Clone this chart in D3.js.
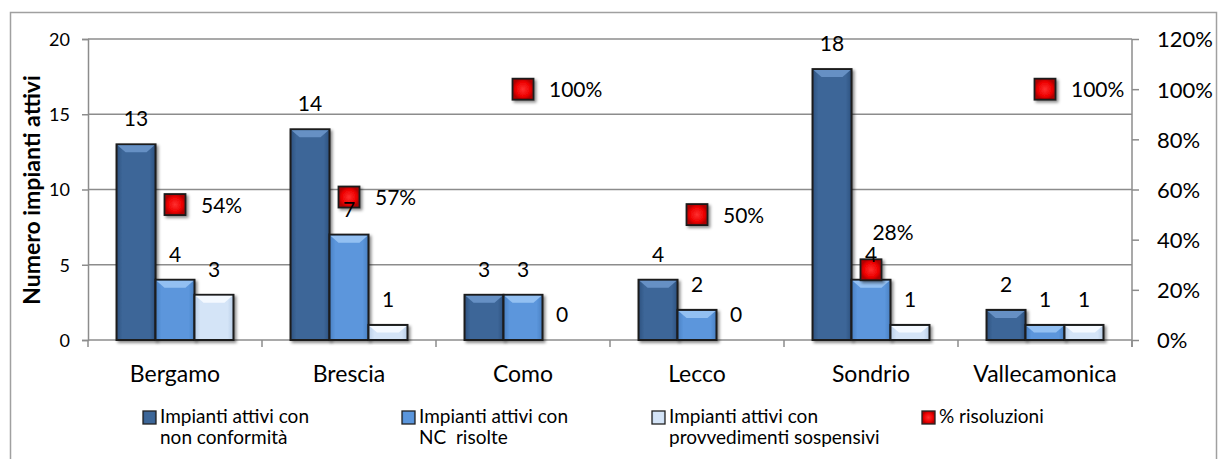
<!DOCTYPE html>
<html><head><meta charset="utf-8">
<script src="https://cdn.jsdelivr.net/npm/d3@7/dist/d3.min.js"></script>
<style>
html,body{margin:0;padding:0;background:#fff;}
svg{display:block;font-family:Lato,"Open Sans",sans-serif;}
</style></head>
<body>
<svg id="chart" width="1219" height="459"></svg>
<script>
const categories = ["Bergamo","Brescia","Como","Lecco","Sondrio","Vallecamonica"];
const seriesNames = ["Impianti attivi con\nnon conformità","Impianti attivi con\nNC  risolte","Impianti attivi con\nprovvedimenti sospensivi","% risoluzioni"];
const nonConformi = [13,14,3,4,18,2];
const ncRisolte = [4,7,3,2,4,1];
const sospensivi = [3,1,0,0,1,1];
const risoluzioni = [0.54,0.57,1.00,0.50,0.28,1.00];
const leftTicks = [0,5,10,15,20];
const rightTicks = [0,0.2,0.4,0.6,0.8,1.0,1.2];

const svg = d3.select("#chart");
const defs = svg.append("defs");
const W=1219;
const L=88, R=1132, T=39, B=340;

// styles
const barStyles = [
  {fill:"#3C6698", top:"#6690C4", dark:"#2E527F"},
  {fill:"#5B96DC", top:"#93C0F2", dark:"#4A80C2"},
  {fill:"#D4E4F7", top:"#F4F9FF", dark:"#B8CDE6"}
];
barStyles.forEach((s,i)=>{
  const g = defs.append("linearGradient").attr("id","bg"+i).attr("x1","0").attr("x2","1").attr("y1","0").attr("y2","0");
  g.append("stop").attr("offset","0").attr("stop-color",s.dark);
  g.append("stop").attr("offset","0.15").attr("stop-color",s.fill);
  g.append("stop").attr("offset","0.85").attr("stop-color",s.fill);
  g.append("stop").attr("offset","1").attr("stop-color",s.dark);
});
const rg = defs.append("radialGradient").attr("id","redg");
rg.append("stop").attr("offset","0").attr("stop-color","#ff3030");
rg.append("stop").attr("offset","0.7").attr("stop-color","#ee0000");
rg.append("stop").attr("offset","1").attr("stop-color","#b00000");
const sh = defs.append("filter").attr("id","shadow").attr("x","-30%").attr("y","-30%").attr("width","160%").attr("height","160%");
sh.append("feDropShadow").attr("dx",2).attr("dy",2).attr("stdDeviation",1.5).attr("flood-color","#000").attr("flood-opacity",0.45);

// frame
svg.append("rect").attr("x",10.5).attr("y",12.5).attr("width",1206).attr("height",470)
  .attr("fill","none").attr("stroke","#a0a0a0").attr("stroke-width",1.5);

const x0 = d3.scaleBand().domain(categories).range([L,R]).padding(0);
const gw = x0.bandwidth()*0.672;
const x1 = d3.scaleBand().domain([0,1,2]).range([0,gw]).padding(0);
const y = d3.scaleLinear().domain([0,20]).range([B,T]);
const yR = d3.scaleLinear().domain([0,1.2]).range([B,T]);

// gridlines
svg.append("g").selectAll("line").data(leftTicks.filter(d=>d>0)).join("line")
  .attr("x1",L).attr("x2",R).attr("y1",d=>y(d)).attr("y2",d=>y(d))
  .attr("stroke","#8c8c8c").attr("stroke-width",1.5);

// left axis
const axL = svg.append("g").attr("transform",`translate(${L},0)`)
  .call(d3.axisLeft(y).tickValues(leftTicks).tickSize(6).tickPadding(12).tickFormat(d3.format("d")));
axL.select(".domain").attr("stroke","#8c8c8c").attr("stroke-width",1.5);
axL.selectAll(".tick line").attr("stroke","#8c8c8c").attr("stroke-width",1.5);
axL.selectAll("text").attr("font-size",18).attr("font-family","Lato").attr("fill","#000").attr("dy","0.36em");

// right axis
const axR = svg.append("g").attr("transform",`translate(${R},0)`)
  .call(d3.axisRight(yR).tickValues(rightTicks).tickSize(7).tickPadding(18).tickFormat(d3.format(".0%")));
axR.select(".domain").attr("stroke","#8c8c8c").attr("stroke-width",1.5).attr("d",`M0,${T}V${B+7}`);
axR.selectAll(".tick line").attr("stroke","#8c8c8c").attr("stroke-width",1.5);
axR.selectAll("text").attr("font-size",22).attr("font-family","Lato").attr("fill","#000").attr("dy","0.36em");

// bottom axis
const axB = svg.append("g").attr("transform",`translate(0,${B})`);
axB.append("line").attr("x1",L).attr("x2",R).attr("stroke","#8c8c8c").attr("stroke-width",1.5);
const bounds = categories.map(c=>x0(c)).concat([R]);
axB.selectAll("line.tk").data(bounds).join("line").attr("class","tk")
  .attr("x1",d=>d).attr("x2",d=>d).attr("y1",0).attr("y2",7).attr("stroke","#8c8c8c").attr("stroke-width",1.5);
axB.selectAll("text").data(categories).join("text")
  .attr("x",d=>x0(d)+x0.bandwidth()/2).attr("y",42).attr("text-anchor","middle")
  .attr("font-size",23).attr("fill","#000").text(d=>d);

// bars
const seriesVals = [nonConformi,ncRisolte,sospensivi];
const gBars = svg.append("g");
categories.forEach((c,ci)=>{
  const gx = x0(c)+(x0.bandwidth()-gw)/2;
  seriesVals.forEach((vals,si)=>{
    const v = vals[ci];
    if(v<=0) return;
    const bx = gx+x1(si), bw = x1.bandwidth(), by = y(v), bh = B-by;
    const g = gBars.append("g");
    g.append("rect").attr("x",bx).attr("y",by).attr("width",bw).attr("height",bh)
      .attr("fill",`url(#bg${si})`).attr("stroke","#1c1c1c").attr("stroke-width",2)
      .attr("filter","url(#shadow)");
    const bev = Math.min(8, bh/2);
    g.append("path").attr("d",`M${bx+1},${by+1}H${bx+bw-1}L${bx+bw-1-bev},${by+bev}H${bx+1+bev}Z`)
      .attr("fill",barStyles[si].top);
  });
});

// markers
const gM = svg.append("g");
const ms = 21;
categories.forEach((c,ci)=>{
  const cx = x0(c)+x0.bandwidth()/2, cy = yR(risoluzioni[ci]);
  gM.append("rect").attr("x",cx-ms/2).attr("y",cy-ms/2).attr("width",ms).attr("height",ms)
    .attr("fill","url(#redg)").attr("stroke","#1a1a1a").attr("stroke-width",1.8).attr("filter","url(#shadow)");
});

// bar value labels
const gL = svg.append("g");
categories.forEach((c,ci)=>{
  const gx = x0(c)+(x0.bandwidth()-gw)/2;
  seriesVals.forEach((vals,si)=>{
    const v = vals[ci];
    gL.append("text").attr("x",gx+x1(si)+x1.bandwidth()/2).attr("y",y(v)-18)
      .attr("text-anchor","middle").attr("font-size",21).attr("fill","#000").text(v);
  });
});

// marker labels
const fmtP = d3.format(".0%");
categories.forEach((c,ci)=>{
  const cx = x0(c)+x0.bandwidth()/2, cy = yR(risoluzioni[ci]);
  const t = gL.append("text").attr("font-size",21).attr("fill","#000").text(fmtP(risoluzioni[ci]));
  if(c==="Sondrio"){
    t.attr("x",cx+22).attr("y",cy-30).attr("text-anchor","middle");
  } else {
    t.attr("x",cx+26).attr("y",cy+8);
  }
});

// y title
svg.append("text").attr("transform","translate(40,190) rotate(-90)").attr("text-anchor","middle")
  .attr("font-size",23).attr("font-weight","bold").attr("fill","#000").text("Numero impianti attivi");

// legend
const legX = [143,402,652,922];
const gLeg = svg.append("g");
seriesNames.forEach((name,i)=>{
  const sx = legX[i];
  if(i<3){
    gLeg.append("rect").attr("x",sx).attr("y",411).attr("width",13).attr("height",13)
      .attr("fill",`url(#bg${i})`).attr("stroke","#222").attr("stroke-width",1.3);
  } else {
    gLeg.append("rect").attr("x",sx).attr("y",411).attr("width",13).attr("height",13)
      .attr("fill","url(#redg)").attr("stroke","#222").attr("stroke-width",1.3);
  }
  const lines = name.split("\n");
  const t = gLeg.append("text").attr("font-size",19).attr("fill","#000");
  lines.forEach((ln,li)=>{
    t.append("tspan").attr("x",sx+17).attr("y",423+li*21).attr("xml:space","preserve").style("white-space","pre").text(ln);
  });
});
</script>
</body></html>
